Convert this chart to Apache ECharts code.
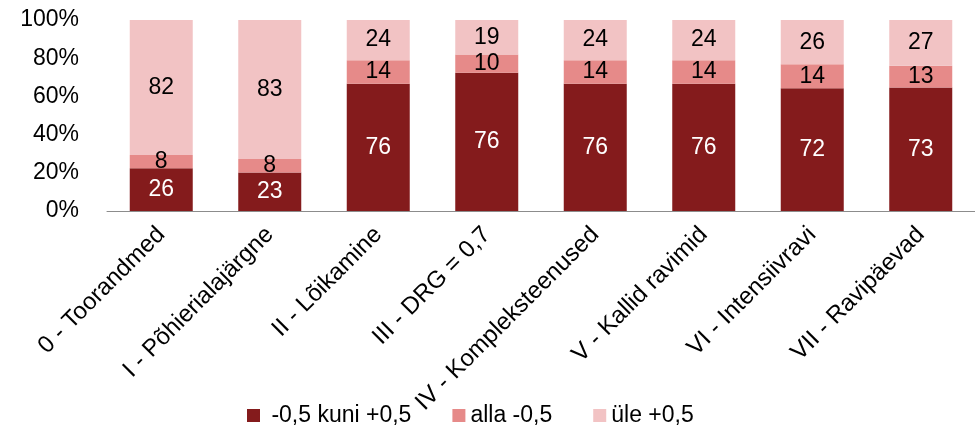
<!DOCTYPE html>
<html>
<head>
<meta charset="utf-8">
<script src="https://cdn.jsdelivr.net/npm/echarts@6/dist/echarts.min.js"></script>
<style>
  html, body { margin: 0; padding: 0; background: #fff; }
  #chart { width: 975px; height: 427px; }
</style>
</head>
<body>
<div id="chart"></div>
<script>
// kategooriad
const categories = ['0 - Toorandmed', 'I - Põhierialajärgne', 'II - Lõikamine', 'III - DRG = 0,7',
    'IV - Kompleksteenused', 'V - Kallid ravimid', 'VI - Intensiivravi', 'VII - Ravipäevad'];
// seeriad (sildil näidatud väärtused)
const seriesNames = ['-0,5 kuni +0,5', 'alla -0,5', 'üle +0,5'];
const midValues = [26, 23, 76, 76, 76, 76, 72, 73];
const lowValues = [8, 8, 14, 10, 14, 14, 14, 13];
const highValues = [82, 83, 24, 19, 24, 24, 26, 27];
const yTicks = [0, 20, 40, 60, 80, 100];

const colors = ['#841b1c', '#e68a89', '#f2c3c4'];
const fontFamily = 'Liberation Sans, Arial, sans-serif';
const fontSize = 23;

// 100% tulbad: iga tulp normeeritakse summaga
const raw = [midValues, lowValues, highValues];
const totals = categories.map((c, i) => midValues[i] + lowValues[i] + highValues[i]);
const pct = raw.map(arr => arr.map((v, i) => v / totals[i] * 100));

const chart = echarts.init(document.getElementById('chart'));

const option = {
    animation: false,
    color: colors,
    grid: {
        left: 107,
        top: 20,
        width: 880,
        height: 191
    },
    legend: {
        left: 247,
        top: 404,
        padding: 0,
        itemWidth: 13,
        itemHeight: 13,
        itemGap: 41,
        icon: 'rect',
        textStyle: { fontFamily: fontFamily, fontSize: fontSize, color: '#000' },
        formatter: name => (name === seriesNames[0] ? ' ' + name : name),
        data: seriesNames
    },
    xAxis: {
        type: 'category',
        data: categories,
        axisLine: { lineStyle: { color: '#8c8c8c', width: 1 } },
        axisTick: { length: 6, lineStyle: { color: '#8c8c8c' } },
        axisLabel: {
            rotate: 45,
            margin: 20,
            interval: 0,
            color: '#000',
            fontFamily: fontFamily,
            fontSize: 24
        }
    },
    yAxis: {
        type: 'value',
        min: 0,
        max: 100,
        interval: 20,
        axisLine: { show: false },
        axisTick: { show: false },
        splitLine: { show: false },
        axisLabel: {
            margin: 28,
            color: '#000',
            fontFamily: fontFamily,
            fontSize: fontSize,
            formatter: v => (yTicks.includes(v) ? v + '%' : '')
        }
    },
    series: seriesNames.map((name, s) => ({
        name: name,
        type: 'bar',
        stack: 'total',
        barWidth: 63,
        data: pct[s],
        label: {
            show: true,
            position: 'inside',
            color: s === 0 ? '#fff' : '#000',
            fontFamily: fontFamily,
            fontSize: fontSize,
            formatter: p => raw[s][p.dataIndex]
        }
    }))
};

chart.setOption(option);
</script>
</body>
</html>
